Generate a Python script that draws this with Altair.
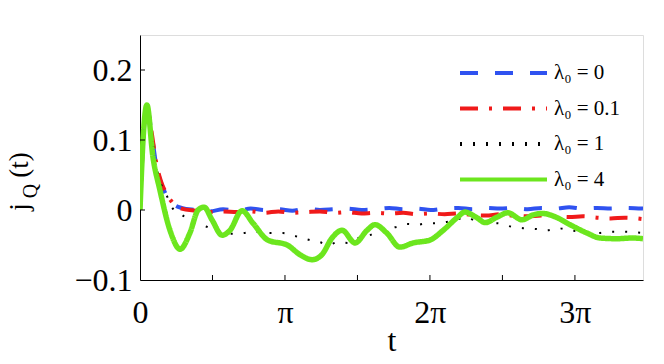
import math
import altair as alt
import pandas as pd

PI = math.pi
FONT = "Liberation Serif"

labels = ["λ₀ = 0", "λ₀ = 0.1", "λ₀ = 1", "λ₀ = 4"]
colors = ["#2f52f0", "#f01a1a", "#000000", "#6ce61e"]
dashes = [[18, 17], [18, 11, 3, 11], [2, 11], [1, 0]]
widths = [4, 4, 2, 5.5]

t_blue = [0, 0.07, 0.15, 0.25, 0.35, 0.45, 0.55, 0.7, 0.9, 1.2, 1.5, 1.8, 2.1, 2.4,
          2.7, 3.0, 3.3, 3.6, 3.9, 4.2, 4.5, 4.8, 5.1, 5.4, 5.7, 6.0, 6.3, 6.6, 6.9,
          7.2, 7.5, 7.8, 8.1, 8.4, 8.7, 9.0, 9.3, 9.6, 9.9, 10.2, 10.5, 10.9]
y_blue = [0, 0.1, 0.148, 0.11, 0.065, 0.04, 0.024, 0.01, 0.003, 0.0, -0.002, 0.001,
          -0.001, 0.002, 0.0, 0.001, -0.001, 0.002, 0.0, 0.001, 0.002, 0.0, 0.001,
          0.003, 0.001, 0.002, 0.0, 0.002, 0.003, 0.001, 0.003, 0.002, 0.003, 0.001,
          0.003, 0.002, 0.004, 0.002, 0.003, 0.002, 0.003, 0.002]

t_red = t_blue
y_red = [0, 0.1, 0.148, 0.112, 0.068, 0.042, 0.026, 0.011, 0.002, -0.001, -0.003,
         -0.002, -0.003, -0.002, -0.004, -0.002, -0.004, -0.003, -0.002, -0.004,
         -0.003, -0.005, -0.004, -0.005, -0.004, -0.006, -0.005, -0.006, -0.005,
         -0.007, -0.008, -0.006, -0.008, -0.009, -0.008, -0.009, -0.010, -0.009,
         -0.011, -0.012, -0.011, -0.013]

t_black = [0, 0.07, 0.15, 0.25, 0.35, 0.45, 0.59, 0.69, 0.91, 1.13, 1.34, 1.52, 1.78,
           1.99, 2.23, 2.49, 2.71, 3.1, 3.29, 3.51, 3.68, 3.9, 4.07, 4.29, 4.51, 4.77,
           4.98, 5.14, 5.35, 5.57, 5.79, 6.02, 6.22, 6.44, 6.65, 7.09, 7.3, 7.52, 7.74,
           8.06, 8.3, 8.56, 8.82, 9.06, 9.32, 9.6, 9.9, 10.18, 10.47, 10.9]
y_black = [0, 0.1, 0.147, 0.108, 0.064, 0.038, 0.019, 0.004, -0.007, -0.017, -0.021,
           -0.026, -0.031, -0.034, -0.033, -0.031, -0.033, -0.033, -0.036, -0.04,
           -0.043, -0.046, -0.05, -0.046, -0.047, -0.039, -0.036, -0.031, -0.027,
           -0.024, -0.02, -0.021, -0.019, -0.019, -0.017, -0.011, -0.017, -0.019,
           -0.019, -0.024, -0.026, -0.027, -0.029, -0.026, -0.029, -0.031, -0.033,
           -0.031, -0.031, -0.033]

t_green = [0, 0.07, 0.15, 0.28, 0.43, 0.65, 0.87, 1.08, 1.26, 1.39, 1.56, 1.78, 1.95,
           2.21, 2.45, 2.77, 3.19, 3.47, 3.73, 3.94, 4.16, 4.38, 4.66, 4.92, 5.09,
           5.35, 5.63, 5.92, 6.28, 6.57, 6.87, 7.04, 7.3, 7.48, 7.74, 7.97, 8.28,
           8.52, 8.73, 9.04, 9.32, 9.69, 9.97, 10.34, 10.68, 10.9]
y_green = [0, 0.105, 0.15, 0.076, 0.029, -0.029, -0.056, -0.033, 0.0, 0.004, -0.014,
           -0.036, -0.029, -0.001, -0.019, -0.043, -0.05, -0.064, -0.071, -0.064,
           -0.04, -0.029, -0.047, -0.029, -0.021, -0.033, -0.053, -0.047, -0.043,
           -0.029, -0.011, -0.003, -0.011, -0.018, -0.01, -0.004, -0.014, -0.007,
           -0.005, -0.011, -0.021, -0.033, -0.04, -0.041, -0.04, -0.041]

x_tick_values = [0, PI, 2 * PI, 3 * PI]
x_minor_ticks = [PI / 2, PI, 3 * PI / 2, 2 * PI, 5 * PI / 2, 3 * PI]
y_tick_values = [-0.1, 0, 0.1, 0.2]
y_inner_ticks = [0, 0.1, 0.2]

rows = []
for lab, ts, ys, w in zip(labels, [t_blue, t_red, t_black, t_green],
                          [y_blue, y_red, y_black, y_green], widths):
    for t, y in zip(ts, ys):
        rows.append({"t": t, "j": y, "series": lab, "w": w})
df = pd.DataFrame(rows)

W, H = 503, 245

x_axis = alt.Axis(values=x_tick_values, ticks=False, tickSize=0, grid=False,
                  labelExpr="datum.value < 0.1 ? '0' : datum.value < 4 ? 'π' : datum.value < 7 ? '2π' : '3π'",
                  labelFont=FONT, labelFontSize=32, labelColor="black", labelPadding=17,
                  labelBaseline="top", labelFlush=False,
                  domainColor="black", domainWidth=1,
                  title="t", titleFont=FONT, titleFontSize=32, titleFontWeight="normal",
                  titleColor="black", titleBaseline="alphabetic", titleY=70)
y_axis = alt.Axis(values=y_tick_values, ticks=False, tickSize=0, grid=False,
                  format=".1~f", labelFont=FONT, labelFontSize=32, labelColor="black",
                  labelPadding=8, labelFlush=False,
                  domainColor="black", domainWidth=1, title=None)

x_enc = alt.X("t:Q", scale=alt.Scale(domain=[0, 10.9], nice=False, zero=False), axis=x_axis)
y_enc = alt.Y("j:Q", scale=alt.Scale(domain=[-0.1, 0.25], nice=False, zero=False), axis=y_axis)

legend = alt.Legend(orient="none", legendX=318, legendY=27, title=None,
                    symbolType="stroke", symbolSize=7569, symbolStrokeWidth=4,
                    labelFont=FONT, labelFontSize=21, labelColor="black",
                    labelOffset=5, clipHeight=22, rowPadding=13.5, padding=0, labelLimit=0)

lines = alt.Chart(df).mark_line(strokeCap="butt", strokeJoin="round",
                                interpolate="monotone", clip=True).encode(
    x=x_enc, y=y_enc,
    color=alt.Color("series:N", scale=alt.Scale(domain=labels, range=colors), legend=legend),
    strokeDash=alt.StrokeDash("series:N", scale=alt.Scale(domain=labels, range=dashes), legend=legend),
    strokeWidth=alt.StrokeWidth("w:Q", scale=None, legend=None),
)

xt = alt.Chart(pd.DataFrame({"t": x_minor_ticks})).mark_rule(color="black", strokeWidth=1).encode(
    x=x_enc, y=alt.value(H), y2=alt.value(H - 5))
yt = alt.Chart(pd.DataFrame({"j": y_inner_ticks})).mark_rule(color="black", strokeWidth=1).encode(
    y=y_enc, x=alt.value(0), x2=alt.value(5))

one = pd.DataFrame({"a": [0]})
tj = alt.Chart(one).mark_text(angle=270, font=FONT, fontSize=27, align="center",
                              baseline="alphabetic", color="black").encode(
    x=alt.value(-112), y=alt.value(172), text=alt.value("j"))
tq = alt.Chart(one).mark_text(angle=270, font=FONT, fontSize=20, align="center",
                              baseline="alphabetic", color="black").encode(
    x=alt.value(-103), y=alt.value(156), text=alt.value("Q"))
tt = alt.Chart(one).mark_text(angle=270, font=FONT, fontSize=27, align="center",
                              baseline="alphabetic", color="black").encode(
    x=alt.value(-112), y=alt.value(130), text=alt.value("(t)"))

chart = alt.layer(lines, xt, yt, tj, tq, tt).properties(
    width=W, height=H,
    autosize=alt.AutoSizeParams(type="none"),
    padding={"left": 132, "top": 27, "right": 13, "bottom": 76},
).configure_view(stroke=None).configure(background="white")

chart.save("out.html", embed_options={"renderer": "svg", "actions": False})
